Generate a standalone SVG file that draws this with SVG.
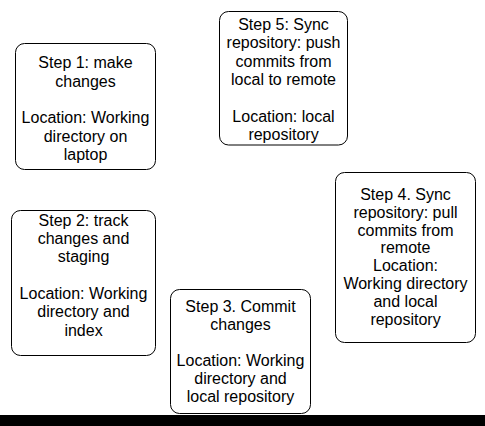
<svg xmlns="http://www.w3.org/2000/svg" width="485" height="426" viewBox="0 0 485 426">
<style>
.box{fill:#fff;stroke:#000;stroke-width:1}
.t{font-family:"Liberation Sans",Arial,Helvetica,sans-serif;font-size:16px;fill:#000;text-anchor:middle}
</style>
<rect x="0" y="0" width="485" height="426" fill="#fff"/>
<g id="connectors"></g>
<g id="step1">
<rect class="box" x="15.5" y="43.5" width="140" height="126" rx="9"/>
<text class="t" x="85.5" y="68.3">Step 1: make</text>
<text class="t" x="85.5" y="86.6">changes</text>
<text class="t" x="85.5" y="123.2">Location: Working</text>
<text class="t" x="85.5" y="141.5">directory on</text>
<text class="t" x="85.5" y="159.8">laptop</text>
</g>
<g id="step2">
<rect class="box" x="11.5" y="210.5" width="144" height="145" rx="9"/>
<text class="t" x="83.5" y="225.7">Step 2: track</text>
<text class="t" x="83.5" y="244">changes and</text>
<text class="t" x="83.5" y="262.3">staging</text>
<text class="t" x="83.5" y="298.9">Location: Working</text>
<text class="t" x="83.5" y="317.2">directory and</text>
<text class="t" x="83.5" y="335.5">index</text>
</g>
<g id="step3">
<rect class="box" x="170.5" y="289.5" width="140" height="124" rx="9"/>
<text class="t" x="240.5" y="311.7">Step 3. Commit</text>
<text class="t" x="240.5" y="329.8">changes</text>
<text class="t" x="240.5" y="366">Location: Working</text>
<text class="t" x="240.5" y="384.1">directory and</text>
<text class="t" x="240.5" y="402.2">local repository</text>
</g>
<g id="step4">
<rect class="box" x="335.5" y="172.5" width="140" height="170" rx="9"/>
<text class="t" x="405.5" y="199.7">Step 4. Sync</text>
<text class="t" x="405.5" y="217.6">repository: pull</text>
<text class="t" x="405.5" y="235.5">commits from</text>
<text class="t" x="405.5" y="253.4">remote</text>
<text class="t" x="405.5" y="271.3">Location:</text>
<text class="t" x="405.5" y="289.2">Working directory</text>
<text class="t" x="405.5" y="307.1">and local</text>
<text class="t" x="405.5" y="325">repository</text>
</g>
<g id="step5">
<rect class="box" x="219.5" y="11.5" width="128" height="133.5" rx="9"/>
<text class="t" x="283.5" y="30">Step 5: Sync</text>
<text class="t" x="283.5" y="48.4">repository: push</text>
<text class="t" x="283.5" y="66.8">commits from</text>
<text class="t" x="283.5" y="85.2">local to remote</text>
<text class="t" x="283.5" y="122">Location: local</text>
<text class="t" x="283.5" y="140.4">repository</text>
</g>
<rect x="0" y="415" width="485" height="11" fill="#000"/>
</svg>
